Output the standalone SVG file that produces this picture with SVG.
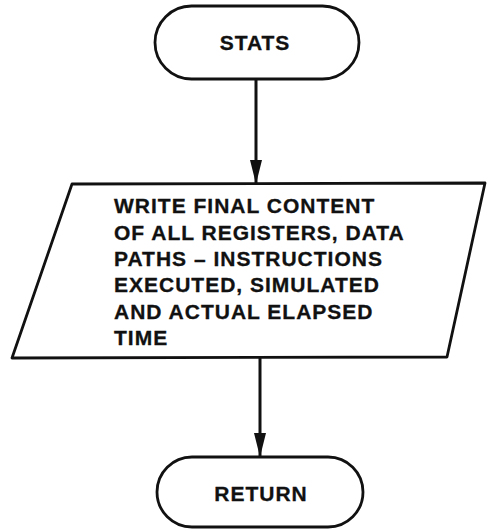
<svg xmlns="http://www.w3.org/2000/svg" width="487" height="529" viewBox="0 0 487 529">
  <style>
    .shape { fill: none; stroke: #111; stroke-width: 2.8; stroke-linejoin: round; }
    .flow { fill: none; stroke: #111; stroke-width: 3; }
    .label { font-family: "Liberation Sans", Arial, Helvetica, sans-serif; font-weight: bold; font-size: 21px; fill: #111; stroke: #111; stroke-width: 0.3; letter-spacing: 1px; }
  </style>
  <defs>
    <marker id="head" viewBox="0 0 24 12" refX="24" refY="6" markerWidth="24" markerHeight="12" markerUnits="userSpaceOnUse" orient="auto">
      <path d="M0 0 L24 6 L0 12 Z" fill="#111"/>
    </marker>
  </defs>
  <rect width="487" height="529" fill="#ffffff"/>

  <!-- connectors -->
  <g id="connectors">
    <line class="flow" x1="256" y1="79" x2="256" y2="184" marker-end="url(#head)"/>
    <line class="flow" x1="260" y1="357" x2="260" y2="457" marker-end="url(#head)"/>
  </g>

  <!-- start terminator -->
  <g id="stats">
    <rect class="shape" x="155" y="6" width="204" height="73" rx="36.5" ry="36.5"/>
    <text class="label" x="255" y="50" text-anchor="middle">STATS</text>
  </g>

  <!-- output step -->
  <g id="write-final">
    <polygon class="shape" points="72,184 485,183 447,357 12,358"/>
    <text class="label" x="114" y="213">WRITE FINAL CONTENT</text>
    <text class="label" x="114" y="239.5">OF ALL REGISTERS, DATA</text>
    <text class="label" x="114" y="266">PATHS – INSTRUCTIONS</text>
    <text class="label" x="114" y="292">EXECUTED, SIMULATED</text>
    <text class="label" x="114" y="319">AND ACTUAL ELAPSED</text>
    <text class="label" x="114" y="345">TIME</text>
  </g>

  <!-- end terminator -->
  <g id="return">
    <rect class="shape" x="157" y="457" width="206" height="70" rx="35" ry="35"/>
    <text class="label" x="261" y="501" text-anchor="middle">RETURN</text>
  </g>
</svg>
